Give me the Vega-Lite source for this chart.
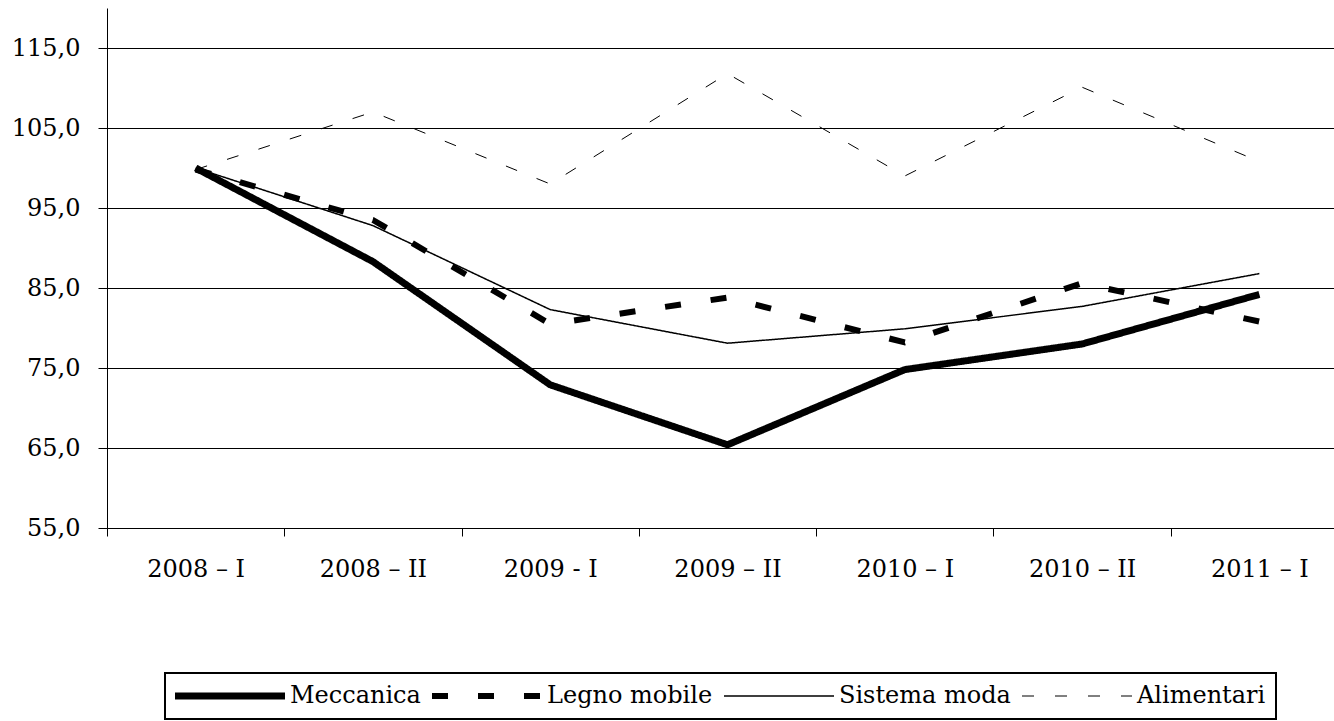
{
  "$schema": "https://vega.github.io/schema/vega-lite/v6.json",
  "width": 1227,
  "height": 520,
  "autosize": {"type": "none"},
  "padding": {"left": 107, "top": 8, "right": 0, "bottom": 193},
  "background": "white",
  "config": {"view": {"stroke": null}, "font": "DejaVu Serif"},
  "data": {
    "values": [
      {"periodo": "2008 – I", "settore": "Meccanica", "valore": 100.0},
      {"periodo": "2008 – II", "settore": "Meccanica", "valore": 88.3},
      {"periodo": "2009 - I", "settore": "Meccanica", "valore": 72.9},
      {"periodo": "2009 – II", "settore": "Meccanica", "valore": 65.4},
      {"periodo": "2010 – I", "settore": "Meccanica", "valore": 74.8},
      {"periodo": "2010 – II", "settore": "Meccanica", "valore": 78.0},
      {"periodo": "2011 – I", "settore": "Meccanica", "valore": 84.2},
      {"periodo": "2008 – I", "settore": "Legno mobile", "valore": 99.8},
      {"periodo": "2008 – II", "settore": "Legno mobile", "valore": 93.5},
      {"periodo": "2009 - I", "settore": "Legno mobile", "valore": 80.5},
      {"periodo": "2009 – II", "settore": "Legno mobile", "valore": 83.8},
      {"periodo": "2010 – I", "settore": "Legno mobile", "valore": 78.2},
      {"periodo": "2010 – II", "settore": "Legno mobile", "valore": 85.6},
      {"periodo": "2011 – I", "settore": "Legno mobile", "valore": 80.8},
      {"periodo": "2008 – I", "settore": "Sistema moda", "valore": 100.0},
      {"periodo": "2008 – II", "settore": "Sistema moda", "valore": 92.8},
      {"periodo": "2009 - I", "settore": "Sistema moda", "valore": 82.3},
      {"periodo": "2009 – II", "settore": "Sistema moda", "valore": 78.1},
      {"periodo": "2010 – I", "settore": "Sistema moda", "valore": 79.9},
      {"periodo": "2010 – II", "settore": "Sistema moda", "valore": 82.7},
      {"periodo": "2011 – I", "settore": "Sistema moda", "valore": 86.8},
      {"periodo": "2008 – I", "settore": "Alimentari", "valore": 99.8},
      {"periodo": "2008 – II", "settore": "Alimentari", "valore": 107.0},
      {"periodo": "2009 - I", "settore": "Alimentari", "valore": 98.0},
      {"periodo": "2009 – II", "settore": "Alimentari", "valore": 111.8},
      {"periodo": "2010 – I", "settore": "Alimentari", "valore": 99.0},
      {"periodo": "2010 – II", "settore": "Alimentari", "valore": 110.1},
      {"periodo": "2011 – I", "settore": "Alimentari", "valore": 100.8}
    ]
  },
  "mark": {"type": "line", "strokeJoin": "round", "color": "black"},
  "encoding": {
    "x": {
      "field": "periodo",
      "type": "ordinal",
      "sort": ["2008 – I", "2008 – II", "2009 - I", "2009 – II", "2010 – I", "2010 – II", "2011 – I"],
      "scale": {"type": "band", "paddingInner": 0, "paddingOuter": 0, "range": [0, 1241]},
      "axis": {
        "title": null,
        "tickBand": "extent",
        "grid": false,
        "domainColor": "black",
        "domainWidth": 1,
        "tickColor": "black",
        "tickSize": 8,
        "labelAngle": 0,
        "labelPadding": 21,
        "labelFont": "DejaVu Serif",
        "labelFontSize": 24,
        "labelColor": "black"
      }
    },
    "y": {
      "field": "valore",
      "type": "quantitative",
      "scale": {"domain": [55, 120], "zero": false, "nice": false},
      "axis": {
        "title": null,
        "values": [55, 65, 75, 85, 95, 105, 115],
        "grid": true,
        "gridColor": "black",
        "gridWidth": 1,
        "domainColor": "black",
        "tickColor": "black",
        "tickSize": 9,
        "labelPadding": 18,
        "labelFont": "DejaVu Serif",
        "labelFontSize": 24,
        "labelColor": "black",
        "labelExpr": "replace(format(datum.value, '.1f'), '.', ',')"
      }
    },
    "strokeDash": {
      "field": "settore",
      "type": "nominal",
      "sort": ["Meccanica", "Legno mobile", "Sistema moda", "Alimentari"],
      "scale": {"range": [[1, 0], [16, 30], [1, 0], [12, 21]]},
      "legend": {
        "title": null,
        "orient": "none",
        "legendX": 58,
        "legendY": 665,
        "direction": "horizontal",
        "symbolType": "M-1,0H9",
        "symbolSize": 484,
        "clipHeight": 26,
        "symbolStrokeColor": "black",
        "symbolFillColor": "transparent",
        "labelFont": "DejaVu Serif",
        "labelFontSize": 24,
        "labelColor": "black",
        "labelLimit": 400,
        "columnPadding": 11,
        "strokeColor": "black",
        "padding": 10,
        "encode": {
          "legend": {"update": {"strokeWidth": {"value": 2}}},
          "symbols": {"update": {
            "x": {"value": 11},
            "strokeWidth": {"signal": "scale('strokeWidth', datum.value)"}
          }},
          "labels": {"update": {"x": {"value": 115}}}
        }
      }
    },
    "strokeWidth": {
      "field": "settore",
      "type": "nominal",
      "sort": ["Meccanica", "Legno mobile", "Sistema moda", "Alimentari"],
      "scale": {"type": "ordinal", "range": [7, 6, 1.5, 1]},
      "legend": null
    }
  }
}
